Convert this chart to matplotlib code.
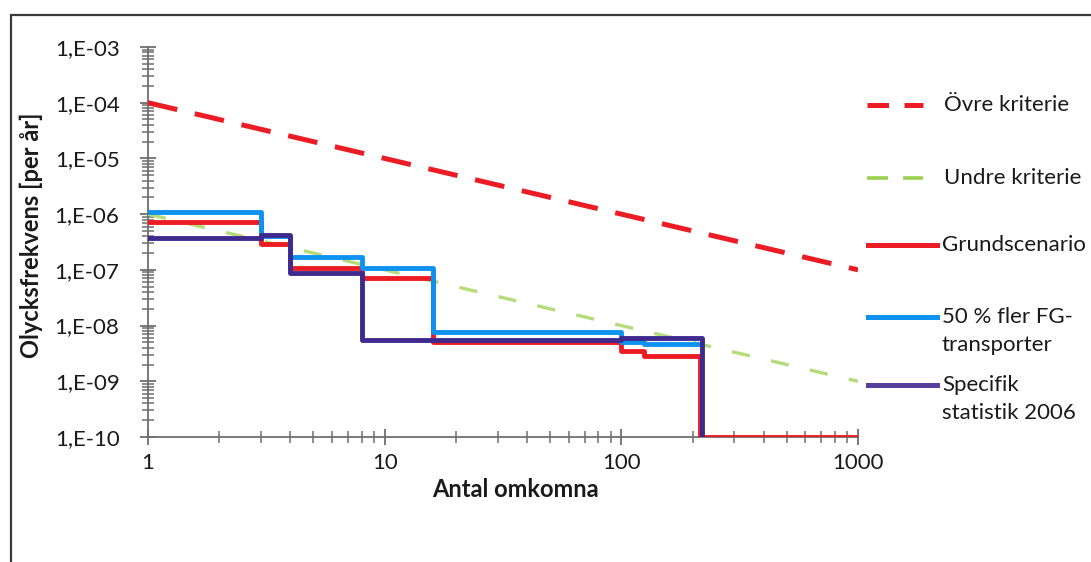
import matplotlib
matplotlib.use('Agg')
import matplotlib.pyplot as plt
from matplotlib.lines import Line2D
from matplotlib.patches import Rectangle
from matplotlib.ticker import LogLocator, FuncFormatter, NullFormatter
import numpy as np

plt.rcParams['font.family'] = ['Lato', 'DejaVu Sans']

# ── data ──────────────────────────────────────────────────────────────
ovre_x = [1, 1000]
ovre_y = [1e-4, 1e-7]
undre_x = [1, 1000]
undre_y = [1e-6, 1e-9]

grund_x = [1, 3, 4, 8, 16, 100, 125, 215, 1000]
grund_y = [7.2e-7, 2.9e-7, 1.1e-7, 7.1e-8, 5.0e-9, 3.5e-9, 2.9e-9, 1e-10, 1e-10]

fler_x = [1, 3, 4, 8, 16, 100, 125, 215]
fler_y = [1.09e-6, 4.0e-7, 1.7e-7, 1.07e-7, 7.6e-9, 5.0e-9, 4.7e-9, 4.7e-9]

spec_x = [1, 3, 4, 8, 100, 220]
spec_y = [3.8e-7, 4.2e-7, 8.7e-8, 5.6e-9, 6.0e-9, 1e-10]

labels = ['Övre kriterie', 'Undre kriterie', 'Grundscenario',
          '50 % fler FG-\ntransporter', 'Specifik\nstatistik 2006']

# ── colours ───────────────────────────────────────────────────────────
RED    = '#EC1C24'
GREEN  = '#9BD152'
GREEN_LINE = '#B5DC7A'
BLUE   = '#0D92F0'
PURPLE = '#3E2A8E'
PURPLE_LEG = '#5A3E9E'
AXIS   = '#6E6E6E'
TXT    = '#1A1A1A'

W, H = 1091, 562
fig = plt.figure(figsize=(W / 100, H / 100), dpi=100)
fig.patch.set_facecolor('white')

def fx(px):
    return px / W

def fy(py):
    return 1 - py / H

ax = fig.add_axes([fx(148), fy(437), fx(858) - fx(148), fy(47) - fy(437)])
ax.set_xscale('log')
ax.set_yscale('log')
ax.set_xlim(1, 1000)
ax.set_ylim(1e-10, 1e-3)

ax.plot(ovre_x, ovre_y, color=RED, lw=3.6, dashes=(6, 3.6), zorder=3)
ax.plot(undre_x, undre_y, color=GREEN_LINE, lw=2.4, dashes=(5.5, 6.5), zorder=3)
ax.plot(grund_x, grund_y, color=RED, lw=3.5, drawstyle='steps-post', zorder=4)
ax.plot(fler_x, fler_y, color=BLUE, lw=3.5, drawstyle='steps-post', zorder=5)
ax.plot(spec_x, spec_y, color=PURPLE, lw=3.5, drawstyle='steps-post', zorder=6)

# ── axes styling ──────────────────────────────────────────────────────
for s in ['top', 'right']:
    ax.spines[s].set_visible(False)
for s in ['left', 'bottom']:
    ax.spines[s].set_color(AXIS)
    ax.spines[s].set_linewidth(1.3)
    ax.spines[s].set_zorder(2.6)

ax.xaxis.set_major_locator(LogLocator(base=10, numticks=10))
ax.xaxis.set_minor_locator(LogLocator(base=10, subs=np.arange(2, 10), numticks=20))
ax.yaxis.set_major_locator(LogLocator(base=10, numticks=20))
ax.yaxis.set_minor_locator(LogLocator(base=10, subs=np.arange(2, 10), numticks=40))
ax.xaxis.set_major_formatter(FuncFormatter(lambda v, p: f'{v:g}'))
ax.yaxis.set_major_formatter(FuncFormatter(lambda v, p: f'1,E-{int(round(-np.log10(v))):02d}'))
ax.xaxis.set_minor_formatter(NullFormatter())
ax.yaxis.set_minor_formatter(NullFormatter())

ax.tick_params(axis='both', which='major', direction='inout', length=11, width=1.3,
               color=AXIS, labelsize=16, labelcolor=TXT)
ax.tick_params(axis='both', which='minor', direction='inout', length=8, width=1.1, color=AXIS)
ax.tick_params(axis='x', which='major', pad=6)
ax.tick_params(axis='y', which='major', pad=15)

ax.set_xlabel('Antal omkomna', fontsize=17, fontweight='bold', color=TXT)
ax.xaxis.set_label_coords((515 - 148) / 710, -0.105)
ax.set_ylabel('Olycksfrekvens [per år]', fontsize=17, fontweight='bold', color=TXT)
ax.yaxis.set_label_coords((43 - 148) / 710, (437 - 235) / 390)

# ── legend, drawn by hand ─────────────────────────────────────────────
leg_y = [105, 178, 245, 317, 385]
leg_style = [(RED, 3.6, (4.3, 3.1)), (GREEN, 2.6, (5.8, 4.2)),
             (RED, 3.6, None), (BLUE, 3.6, None), (PURPLE_LEG, 3.6, None)]
for lab, y, (col, lw, dash) in zip(labels, leg_y, leg_style):
    if dash:
        ln = Line2D([fx(867), fx(923)], [fy(y), fy(y)], color=col, lw=lw,
                    dashes=dash, transform=fig.transFigure)
        tx = 944
    else:
        ln = Line2D([fx(868), fx(937)], [fy(y), fy(y)], color=col, lw=lw,
                    transform=fig.transFigure)
        tx = 942
    fig.add_artist(ln)
    for i, part in enumerate(lab.split('\n')):
        fig.text(fx(tx), fy(y + i * 28), part, fontsize=16, color=TXT,
                 ha='left', va='center')

# ── outer frame ───────────────────────────────────────────────────────
fig.add_artist(Rectangle((fx(11), -0.2), 1.2, fy(15) + 0.2, transform=fig.transFigure,
                         fill=False, edgecolor='#3A3A3A', lw=1.6))

fig.savefig('out.png', dpi=100, facecolor='white')
